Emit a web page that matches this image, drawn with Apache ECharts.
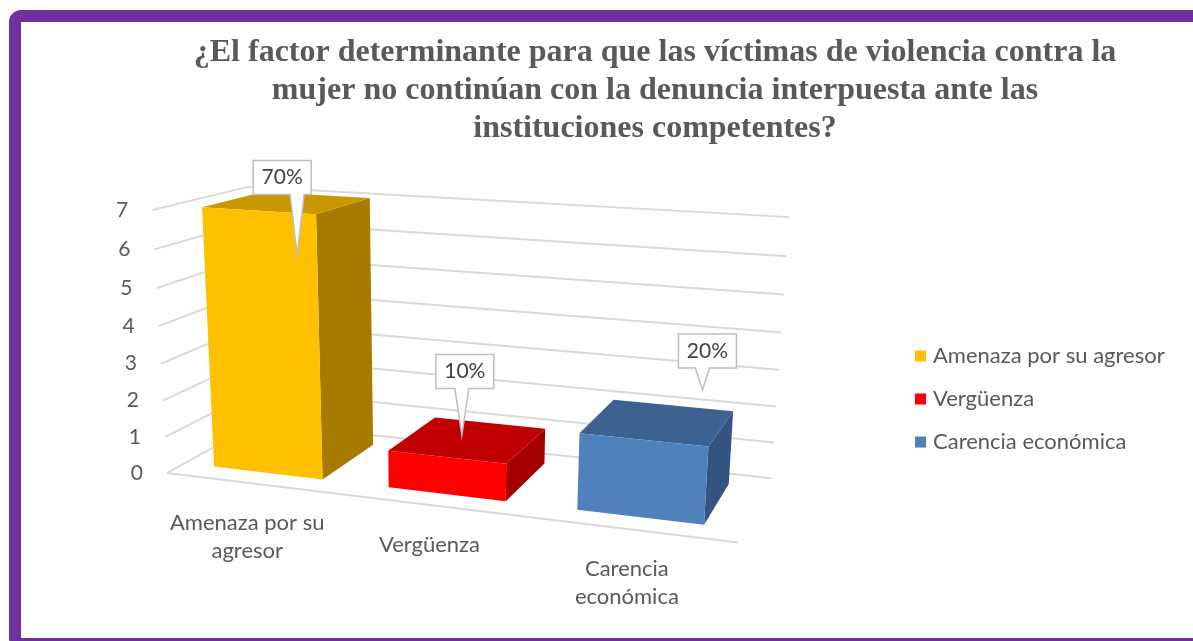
<!DOCTYPE html>
<html>
<head>
<meta charset="utf-8">
<style>
  html, body { margin: 0; padding: 0; background: #fff; }
  #main { width: 1193px; height: 641px; }
</style>
<script src="https://cdn.jsdelivr.net/npm/echarts@6.0.0/dist/echarts.min.js"></script>
</head>
<body>
<div id="main"></div>
<script>
var categories = ['Amenaza por su agresor', 'Vergüenza', 'Carencia económica'];
var axisLabels = ['Amenaza por su\nagresor', 'Vergüenza', 'Carencia\neconómica'];
var values = [7, 1, 2];
var yTicks = [0, 1, 2, 3, 4, 5, 6, 7];

var frontColors = ['#FFC000', '#FF0000', '#4F81BD'];
var topColors = ['#C99700', '#C00000', '#3C6291'];
var sideColors = ['#A57C00', '#A50000', '#34557F'];
// callout box centre / tip, relative to the centre of the bar top
var boxOffset = [[-6, -25], [-4, -68], [49, -71]];
var tipOffset = [[9, 52], [-7, -4], [44, -32]];

var TEXT = '#595959';
var GRID = '#D9D9D9';
var SANS = 'Lato';

// perspective: vanishing points of the category, depth and value directions
var VP_X = [-4300, -70], VP_Z = [1021, 0], VP_Y = [440, 5300], ORIGIN = [167, 473];
var KX = -0.03778, KZ = 0.119, KY = -0.00738;
var HALF = 0.315, B0 = 0.18, B1 = 0.83;

function proj(a, b, c) {
    var w = 1 + KX * a + KZ * b + KY * c;
    return [
        (ORIGIN[0] + KX * a * VP_X[0] + KZ * b * VP_Z[0] + KY * c * VP_Y[0]) / w,
        (ORIGIN[1] + KX * a * VP_X[1] + KZ * b * VP_Z[1] + KY * c * VP_Y[1]) / w
    ];
}

// axis pixel -> box units (category band = 1, value = 1)
function world(api, i, v) {
    var p0 = api.coord([0, 0]);
    var p = api.coord([i, v]);
    var band = api.size([1, 0])[0];
    var unit = api.size([0, 1])[1];
    return [(p[0] - p0[0]) / band + 0.5, (p0[1] - p[1]) / unit];
}

var total = values.reduce(function (s, v) { return s + v; }, 0);

function renderGrid(params, api) {
    var c = world(api, 0, api.value(1))[1];
    var n = categories.length;
    var lineStyle = { stroke: GRID, lineWidth: 2 };
    var s0 = proj(0, 0, c), s1 = proj(0, 1, c), s2 = proj(n, 1, c);
    var children = [
        { type: 'line', shape: { x1: s0[0], y1: s0[1], x2: s1[0], y2: s1[1] }, style: lineStyle },
        { type: 'line', shape: { x1: s1[0], y1: s1[1], x2: s2[0], y2: s2[1] }, style: lineStyle },
        { type: 'text', style: { text: String(api.value(1)), x: s0[0] - 24, y: s0[1], align: 'right', verticalAlign: 'middle', fill: TEXT, fontFamily: SANS, fontSize: 21 } }
    ];
    if (c === 0) {
        var e = proj(n, 0, 0);
        children.push({ type: 'line', shape: { x1: s0[0], y1: s0[1], x2: e[0], y2: e[1] }, style: lineStyle });
    }
    return { type: 'group', children: children };
}

function renderBar(k) {
    return function (params, api) {
        var w = world(api, api.value(0), api.value(1));
        var mid = w[0] - 0.01, c = w[1];
        var a0 = mid - HALF, a1 = mid + HALF;
        var side = [proj(a1, B0, 0), proj(a1, B1, 0), proj(a1, B1, c), proj(a1, B0, c)];
        var top = [proj(a0, B0, c), proj(a1, B0, c), proj(a1, B1, c), proj(a0, B1, c)];
        var front = [proj(a0, B0, 0), proj(a1, B0, 0), proj(a1, B0, c), proj(a0, B0, c)];

        var t = proj(mid, (B0 + B1) / 2, c);
        var bx = t[0] + boxOffset[k][0], by = t[1] + boxOffset[k][1];
        var L = bx - 29, R = bx + 29, T = by - 17, B = by + 17;
        var tip = [t[0] + tipOffset[k][0], t[1] + tipOffset[k][1]];
        var wx = Math.max(L + 12, Math.min(R - 12, tip[0]));
        var callout = [[L, T], [R, T], [R, B], [wx + 7, B], tip, [wx - 7, B], [L, B]];

        var f = proj(mid, 0, 0);
        return {
            type: 'group',
            children: [
                { type: 'polygon', shape: { points: side }, style: { fill: sideColors[k] } },
                { type: 'polygon', shape: { points: top }, style: { fill: topColors[k] } },
                { type: 'polygon', shape: { points: front }, style: { fill: frontColors[k] } },
                { type: 'polygon', shape: { points: callout }, style: { fill: '#fff', stroke: '#BFBFBF', lineWidth: 1.5 } },
                { type: 'text', style: { text: Math.round(api.value(1) / total * 100) + '%', x: bx, y: by, align: 'center', verticalAlign: 'middle', fill: '#404040', fontFamily: SANS, fontSize: 21 } },
                { type: 'text', style: { text: axisLabels[k], x: f[0] - 4, y: f[1] + 26, align: 'center', verticalAlign: 'top', lineHeight: 28, fill: TEXT, fontFamily: SANS, fontSize: 22 } }
            ]
        };
    };
}

var series = [{
    name: 'grid',
    type: 'custom',
    renderItem: renderGrid,
    data: yTicks.map(function (v) { return [0, v]; }),
    silent: true,
    z: 1
}];
categories.forEach(function (name, k) {
    series.push({
        name: name,
        type: 'custom',
        renderItem: renderBar(k),
        itemStyle: { color: frontColors[k] },
        data: [[k, values[k]]],
        z: 2
    });
});

var myChart = echarts.init(document.getElementById('main'));
var option = {
    backgroundColor: '#fff',
    animation: false,
    title: {
        text: '¿El factor determinante para que las víctimas de violencia contra la\nmujer no continúan con la denuncia interpuesta ante las\ninstituciones competentes?',
        left: 655,
        top: 34,
        padding: 0,
        textAlign: 'center',
        textStyle: { fontFamily: 'Liberation Serif', fontWeight: 'bold', fontSize: 32, lineHeight: 38, color: TEXT }
    },
    legend: {
        orient: 'vertical',
        left: 915,
        top: 345,
        padding: 0,
        icon: 'rect',
        itemWidth: 11,
        itemHeight: 11,
        itemGap: 21,
        data: categories,
        textStyle: { fontFamily: SANS, fontSize: 22, color: TEXT, padding: [0, 0, 0, 2] }
    },
    grid: { left: 100, top: 100, width: 300, height: 350 },
    xAxis: { type: 'category', data: categories, show: false },
    yAxis: { type: 'value', min: 0, max: 7, interval: 1, show: false },
    graphic: [{
        type: 'rect',
        silent: true,
        z: 100,
        shape: { x: 15, y: 16, width: 1300, height: 628, r: 6 },
        style: { fill: 'none', stroke: '#7030A0', lineWidth: 12 }
    }],
    series: series
};
myChart.setOption(option);
</script>
</body>
</html>
